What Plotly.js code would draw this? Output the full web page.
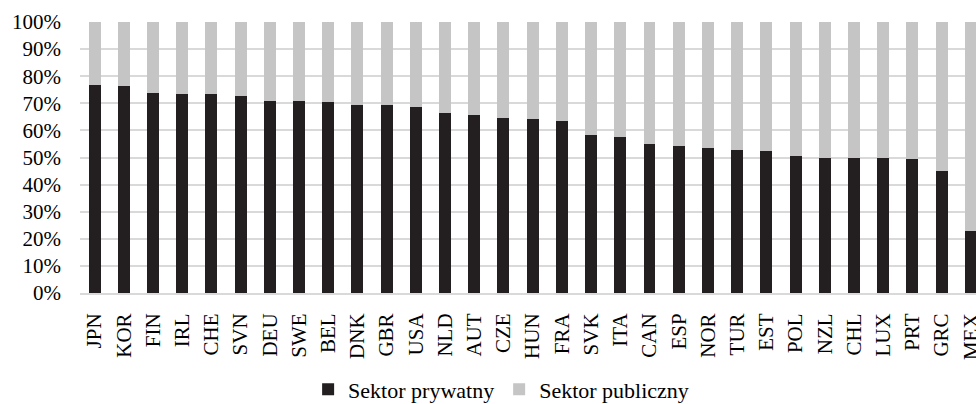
<!DOCTYPE html>
<html>
<head>
<meta charset="utf-8">
<script src="https://cdn.plot.ly/plotly-3.0.1.min.js"></script>
<style>html,body{margin:0;padding:0;background:#fff;}#chart{width:976px;height:404px;}</style>
</head>
<body>
<div id="chart"></div>
<script>
const countries = ["JPN","KOR","FIN","IRL","CHE","SVN","DEU","SWE","BEL","DNK","GBR","USA","NLD","AUT","CZE","HUN","FRA","SVK","ITA","CAN","ESP","NOR","TUR","EST","POL","NZL","CHL","LUX","PRT","GRC","MEX"];
const privateSector = [76.9,76.4,73.8,73.4,73.4,72.7,70.8,70.8,70.5,69.5,69.5,68.8,66.4,65.8,64.6,64.2,63.6,58.3,57.6,55.0,54.2,53.5,52.8,52.4,50.6,49.8,49.8,49.8,49.6,45.0,23.0];
const publicSector = [23.1,23.6,26.2,26.6,26.6,27.3,29.2,29.2,29.5,30.5,30.5,31.2,33.6,34.2,35.4,35.8,36.4,41.7,42.4,45.0,45.8,46.5,47.2,47.6,49.4,50.2,50.2,50.2,50.4,55.0,77.0];
const seriesNames = ["Sektor prywatny","Sektor publiczny"];

const fam = 'Liberation Serif, Times New Roman, serif';
const tickFont = {family: fam, size: 21, color: '#000'};
const legendFont = {family: fam, size: 22, color: '#000'};

const traces = [
  {type:'bar', name: seriesNames[0], x: countries, y: privateSector, marker:{color:'#231f20'}, hoverinfo:'x+y'},
  {type:'bar', name: seriesNames[1], x: countries, y: publicSector, marker:{color:'#c5c5c5'}, hoverinfo:'x+y'}
];

const layout = {
  width: 976, height: 404,
  margin: {l: 80, r: 0, t: 22, b: 111, pad: 0, autoexpand: false},
  barmode: 'stack',
  bargap: 0.59,
  paper_bgcolor: '#fff', plot_bgcolor: '#fff',
  font: tickFont,
  showlegend: true,
  legend: {orientation: 'h', x: 0.47, xanchor: 'center', y: -0.356, yanchor: 'middle', font: legendFont, traceorder: 'normal'},
  xaxis: {
    type: 'category',
    range: [-0.5, 30.18],
    tickangle: -90,
    tickfont: tickFont,
    showgrid: false,
    showline: true, linecolor: '#d9d9d9', linewidth: 2,
    ticks: '', ticklabelstandoff: 10,
    fixedrange: true
  },
  yaxis: {
    range: [0, 100],
    dtick: 10,
    ticksuffix: '%',
    tickfont: tickFont,
    showgrid: true, gridcolor: '#d9d9d9', gridwidth: 2,
    zeroline: false,
    showline: false,
    ticks: '', ticklabelstandoff: 18,
    fixedrange: true
  }
};

Plotly.newPlot('chart', traces, layout, {displayModeBar: false, staticPlot: true});
</script>
</body>
</html>
